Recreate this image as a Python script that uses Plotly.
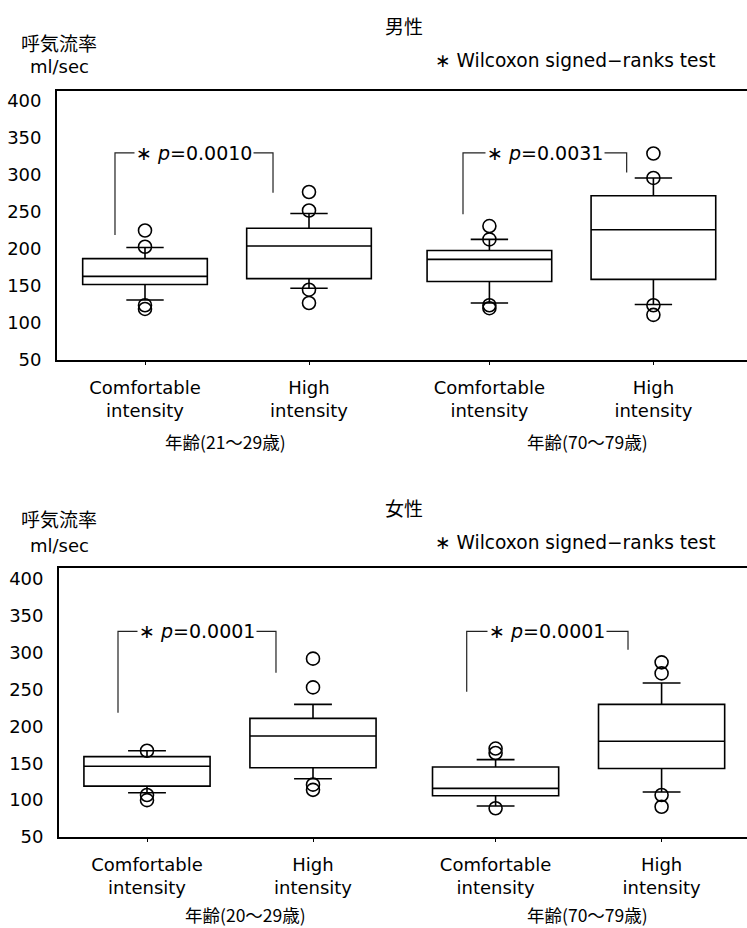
import plotly.graph_objects as go

W, H = 747, 928

# ---------------- data ----------------
positions = [1.0, 2.0, 3.1, 4.1]
tick_text = ["Comfortable<br>intensity", "High<br>intensity",
             "Comfortable<br>intensity", "High<br>intensity"]

# 男性 (men)
men_q1 = [152, 160, 156, 159]
men_median = [163, 204, 186, 226]
men_q3 = [187, 228, 198, 272]
men_low = [131, 147, 127, 125]
men_high = [202, 248, 213, 296]
men_outliers = [[225, 203, 124, 119], [277, 252, 145, 127],
                [231, 213, 124, 120], [329, 296, 124, 111]]

# 女性 (women)
women_q1 = [119, 144, 106, 143]
women_median = [146, 187, 116, 180]
women_q3 = [159, 211, 145, 230]
women_low = [110, 129, 92, 111]
women_high = [167, 230, 155, 259]
women_outliers = [[167, 107, 100], [292, 253, 121, 114],
                  [170, 164, 89], [287, 272, 107, 91]]

men_p = ["0.0010", "0.0031"]
women_p = ["0.0001", "0.0001"]
men_ages = ["年齢(21～29歳)", "年齢(70～79歳)"]
women_ages = ["年齢(20～29歳)", "年齢(70～79歳)"]
y_ticks = [50, 100, 150, 200, 250, 300, 350, 400]

def px(x):
    return x / W

def py(y):
    return 1 - y / H

LATIN = "DejaVu Sans"
CJK = "Noto Sans CJK JP"

fig = go.Figure()

def add_panel(q1, med, q3, lo, hi, outs, xa, ya):
    for i in range(4):
        fig.add_trace(go.Box(
            x=[positions[i]], q1=[q1[i]], median=[med[i]], q3=[q3[i]],
            lowerfence=[lo[i]], upperfence=[hi[i]],
            width=0.76, whiskerwidth=0.3, boxpoints=False,
            fillcolor="white", line=dict(color="black", width=1.6),
            xaxis=xa, yaxis=ya, showlegend=False, hoverinfo="skip"))
        fig.add_trace(go.Scatter(
            x=[positions[i]] * len(outs[i]), y=outs[i], mode="markers",
            marker=dict(symbol="circle-open", size=13, color="black",
                        line=dict(width=1.6, color="black")),
            xaxis=xa, yaxis=ya, showlegend=False, hoverinfo="skip"))

add_panel(men_q1, men_median, men_q3, men_low, men_high, men_outliers, "x", "y")
add_panel(women_q1, women_median, women_q3, women_low, women_high, women_outliers, "x2", "y2")

axis_common = dict(showgrid=False, zeroline=False, showline=True,
                   linecolor="black", linewidth=1.8, automargin=False)

top_y0, top_y1 = 91, 360
bot_y0, bot_y1 = 568, 837

fig.update_layout(
    width=W, height=H, margin=dict(l=0, r=0, t=0, b=0, pad=0), autosize=False,
    paper_bgcolor="white", plot_bgcolor="white",
    xaxis=dict(domain=[px(57), 1], range=[0.4634, 4.6707], anchor="y",
               tickvals=positions, ticktext=tick_text, ticks="outside",
               ticklen=3, tickcolor="black", mirror=True,
               tickfont=dict(family=LATIN, size=18, color="black"),
               ticklabelstandoff=7, **axis_common),
    yaxis=dict(domain=[py(top_y1), py(top_y0)], range=[50, 413.5], anchor="x",
               tickvals=y_ticks, ticks="", ticklabelstandoff=10,
               tickfont=dict(family=LATIN, size=18, color="black"),
               **axis_common),
    xaxis2=dict(domain=[px(59), 1], range=[0.4699, 4.6145], anchor="y2",
                tickvals=positions, ticktext=tick_text, ticks="outside",
                ticklen=3, tickcolor="black", mirror=True,
                tickfont=dict(family=LATIN, size=18, color="black"),
                ticklabelstandoff=7, **axis_common),
    yaxis2=dict(domain=[py(bot_y1), py(bot_y0)], range=[50, 415], anchor="x2",
                tickvals=y_ticks, ticks="", ticklabelstandoff=10,
                tickfont=dict(family=LATIN, size=18, color="black"),
                **axis_common),
)

annotations = []
shapes = []

def text(x, y, s, size, family, **kw):
    annotations.append(dict(x=px(x), y=py(y), xref="paper", yref="paper",
                            text=s, showarrow=False, xanchor="center",
                            yanchor="middle",
                            font=dict(family=family, size=size, color="black"),
                            **kw))

for (title, ty, wy, ly1, ly2) in [("男性", 25, 60, 43, 67), ("女性", 507, 542, 518, 545)]:
    text(404, ty, title, 19, CJK)
    text(575, wy, "∗ Wilcoxon signed−ranks test", 18.6, LATIN)
    text(59, ly1, "呼気流率", 19, CJK)
    text(59, ly2, "ml/sec", 18, LATIN)

text(225, 441, men_ages[0], 17.5, CJK)
text(587, 441, men_ages[1], 17.5, CJK)
text(245, 914, women_ages[0], 17.5, CJK)
text(587, 914, women_ages[1], 17.5, CJK)

brackets = [
    ("x", "y", 0.817, 1.7805, 330, 219, 276, men_p[0]),
    ("x", "y", 2.939, 3.937, 330, 247, 303.5, men_p[1]),
    ("x2", "y2", 0.8253, 1.777, 329, 218.5, 273, women_p[0]),
    ("x2", "y2", 2.926, 3.8977, 329, 247, 304, women_p[1]),
]
for xr, yr, xl, xrt, yt, ylb, yrb, p in brackets:
    shapes.append(dict(type="path", xref=xr, yref=yr,
                       path=f"M {xl},{ylb} L {xl},{yt} L {xrt},{yt} L {xrt},{yrb}",
                       line=dict(color="#222", width=1.2)))
    annotations.append(dict(x=(xl + xrt) / 2, y=yt, xref=xr, yref=yr,
                            text=f"∗ <i>p</i>=" + p, showarrow=False,
                            xanchor="center", yanchor="middle",
                            bgcolor="white", borderpad=1,
                            font=dict(family=LATIN, size=19, color="black")))

fig.update_layout(annotations=annotations, shapes=shapes)
fig.write_html("out.html")
